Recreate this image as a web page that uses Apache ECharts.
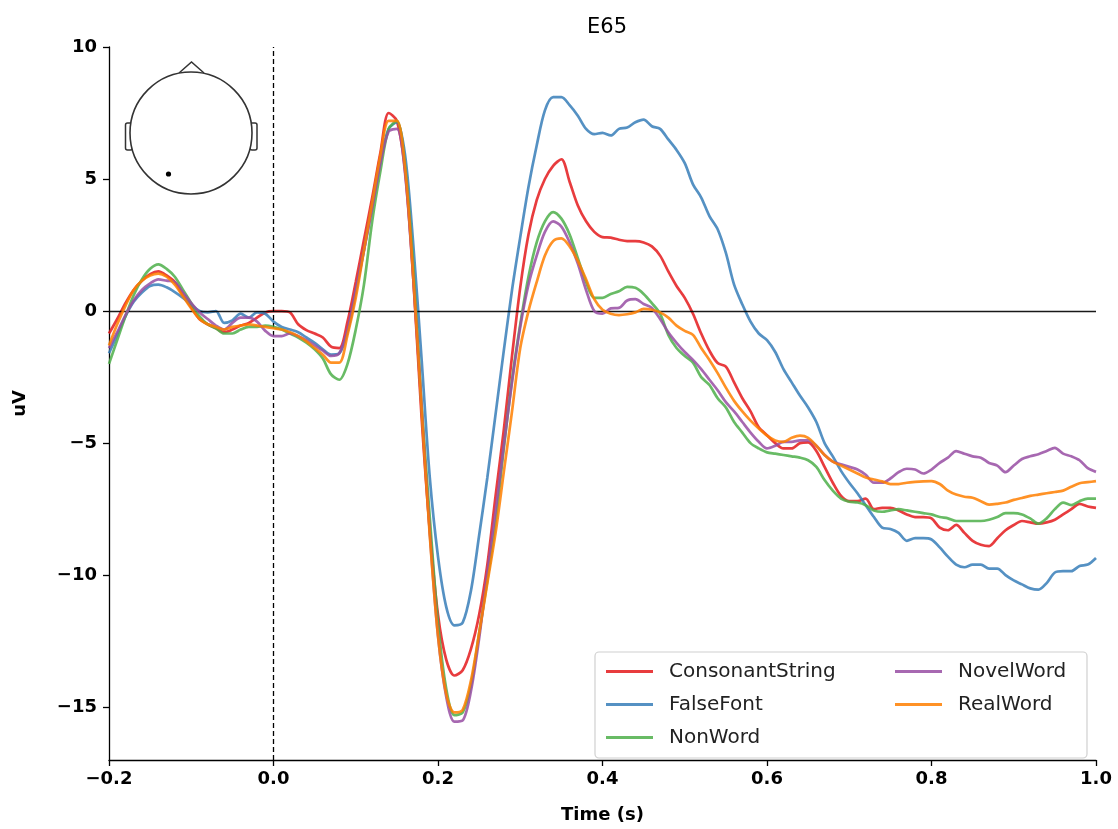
<!DOCTYPE html>
<html>
<head>
<meta charset="utf-8">
<script src="https://cdn.jsdelivr.net/npm/echarts@6/dist/echarts.min.js"></script>
<style>
html,body{margin:0;padding:0;background:#fff;}
#chart{width:1118px;height:829px;}
</style>
</head>
<body>
<div id="chart"></div>
<script>
// ---- data (µV at 10 ms steps) ----
const times = [
 -0.20,-0.19,-0.18,-0.17,-0.16,-0.15,-0.14,-0.13,-0.12,-0.11,
 -0.10,-0.09,-0.08,-0.07,-0.06,-0.05,-0.04,-0.03,-0.02,-0.01,
 0.00,0.01,0.02,0.03,0.04,0.05,0.06,0.07,0.08,0.09,
 0.10,0.11,0.12,0.13,0.14,0.15,0.16,0.17,0.18,0.19,
 0.20,0.21,0.22,0.23,0.24,0.25,0.26,0.27,0.28,0.29,
 0.30,0.31,0.32,0.33,0.34,0.35,0.36,0.37,0.38,0.39,
 0.40,0.41,0.42,0.43,0.44,0.45,0.46,0.47,0.48,0.49,
 0.50,0.51,0.52,0.53,0.54,0.55,0.56,0.57,0.58,0.59,
 0.60,0.61,0.62,0.63,0.64,0.65,0.66,0.67,0.68,0.69,
 0.70,0.71,0.72,0.73,0.74,0.75,0.76,0.77,0.78,0.79,
 0.80,0.81,0.82,0.83,0.84,0.85,0.86,0.87,0.88,0.89,
 0.90,0.91,0.92,0.93,0.94,0.95,0.96,0.97,0.98,0.99,
 1.00
];
const consonantString = [
 -0.85,-0.3,0.3,0.8,1.15,1.4,1.5,1.35,1.1,0.6,
 0.15,-0.3,-0.5,-0.65,-0.8,-0.7,-0.55,-0.45,-0.25,-0.05,
 0.0,0.0,-0.05,-0.5,-0.72,-0.85,-1.0,-1.35,-1.4,-0.4,
 1.1,2.7,4.3,6.0,7.5,7.2,5.3,1.2,-4.0,-8.3,
 -11.5,-13.2,-13.8,-13.6,-12.8,-11.5,-9.6,-7.0,-4.5,-1.7,
 0.9,2.9,4.2,5.0,5.5,5.75,4.9,4.0,3.4,3.0,
 2.8,2.78,2.7,2.65,2.65,2.6,2.45,2.1,1.5,0.95,
 0.5,-0.1,-0.85,-1.5,-1.97,-2.1,-2.7,-3.3,-3.8,-4.4,
 -4.7,-5.0,-5.2,-5.2,-5.0,-4.97,-5.3,-5.9,-6.5,-7.0,
 -7.2,-7.2,-7.1,-7.5,-7.45,-7.45,-7.55,-7.7,-7.8,-7.8,
 -7.85,-8.2,-8.3,-8.1,-8.4,-8.7,-8.85,-8.9,-8.6,-8.3,
 -8.1,-7.95,-8.0,-8.05,-8.0,-7.9,-7.7,-7.5,-7.3,-7.4,
 -7.45
];
const falseFont = [
 -1.6,-0.9,-0.2,0.35,0.7,0.95,1.0,0.9,0.72,0.5,
 0.25,0.0,-0.05,0.0,-0.45,-0.35,-0.1,-0.25,-0.05,-0.1,
 -0.4,-0.6,-0.7,-0.8,-1.0,-1.2,-1.45,-1.65,-1.6,-0.8,
 0.7,2.3,4.0,5.7,6.9,7.15,5.9,2.5,-1.8,-6.3,
 -9.3,-11.2,-11.9,-11.8,-10.6,-8.5,-6.3,-3.9,-1.5,0.8,
 2.8,4.7,6.27,7.6,8.1,8.1,7.8,7.4,6.9,6.7,
 6.75,6.65,6.9,6.95,7.15,7.25,7.0,6.9,6.5,6.1,
 5.6,4.8,4.3,3.6,3.1,2.2,1.0,0.25,-0.4,-0.85,
 -1.1,-1.55,-2.2,-2.7,-3.2,-3.65,-4.2,-5.0,-5.5,-6.05,
 -6.5,-6.9,-7.35,-7.8,-8.2,-8.25,-8.4,-8.7,-8.6,-8.6,
 -8.65,-8.95,-9.3,-9.6,-9.7,-9.6,-9.6,-9.75,-9.75,-10.0,
 -10.2,-10.35,-10.5,-10.55,-10.3,-9.9,-9.85,-9.85,-9.65,-9.6,
 -9.35
];
const nonWord = [
 -2.0,-1.1,-0.2,0.6,1.2,1.6,1.77,1.6,1.3,0.8,
 0.3,-0.2,-0.5,-0.65,-0.85,-0.85,-0.7,-0.6,-0.6,-0.55,
 -0.6,-0.7,-0.85,-1.0,-1.2,-1.45,-1.8,-2.4,-2.6,-2.0,
 -0.7,1.0,3.4,5.3,6.9,7.2,5.5,1.7,-3.5,-7.8,
 -11.8,-14.3,-15.3,-15.2,-14.2,-12.2,-10.2,-8.0,-5.2,-2.6,
 -0.5,1.3,2.6,3.4,3.75,3.5,2.9,2.0,1.1,0.5,
 0.5,0.65,0.75,0.92,0.88,0.65,0.3,-0.1,-0.9,-1.4,
 -1.7,-1.95,-2.5,-2.8,-3.3,-3.65,-4.2,-4.6,-5.0,-5.2,
 -5.35,-5.4,-5.45,-5.5,-5.55,-5.65,-5.9,-6.4,-6.8,-7.1,
 -7.22,-7.25,-7.35,-7.55,-7.6,-7.55,-7.5,-7.55,-7.6,-7.65,
 -7.7,-7.8,-7.85,-7.95,-7.95,-7.95,-7.95,-7.9,-7.8,-7.65,
 -7.65,-7.7,-7.85,-8.05,-7.85,-7.5,-7.25,-7.35,-7.2,-7.1,
 -7.1
];
const novelWord = [
 -1.4,-0.8,-0.15,0.4,0.8,1.05,1.2,1.15,1.1,0.7,
 0.3,-0.05,-0.3,-0.55,-0.7,-0.45,-0.25,-0.25,-0.4,-0.75,
 -0.95,-0.95,-0.85,-0.95,-1.1,-1.3,-1.5,-1.7,-1.6,-0.7,
 0.8,2.3,3.9,5.6,6.8,6.9,5.2,1.2,-3.6,-8.4,
 -12.3,-14.6,-15.55,-15.5,-14.4,-12.4,-9.9,-7.6,-5.1,-2.7,
 -0.6,1.0,2.1,3.0,3.4,3.2,2.6,1.8,0.8,0.0,
 -0.1,0.1,0.12,0.4,0.45,0.27,0.12,-0.3,-0.8,-1.2,
 -1.55,-1.85,-2.2,-2.6,-3.0,-3.45,-3.8,-4.2,-4.6,-4.95,
 -5.2,-5.1,-4.95,-4.95,-4.9,-4.9,-5.1,-5.45,-5.7,-5.8,
 -5.9,-6.0,-6.2,-6.5,-6.5,-6.34,-6.1,-5.97,-6.0,-6.15,
 -6.0,-5.75,-5.55,-5.3,-5.4,-5.5,-5.55,-5.75,-5.85,-6.1,
 -5.85,-5.6,-5.5,-5.42,-5.3,-5.18,-5.4,-5.5,-5.65,-5.95,
 -6.09
];
const realWord = [
 -1.3,-0.5,0.2,0.8,1.15,1.35,1.42,1.3,1.0,0.55,
 0.1,-0.3,-0.5,-0.6,-0.7,-0.6,-0.55,-0.5,-0.55,-0.6,
 -0.65,-0.7,-0.8,-0.95,-1.15,-1.4,-1.65,-1.95,-1.95,-0.9,
 0.5,2.3,4.1,5.9,7.2,7.2,5.4,1.3,-3.7,-8.5,
 -12.3,-14.5,-15.2,-15.1,-14.0,-12.2,-10.3,-8.4,-6.1,-3.8,
 -1.4,0.0,1.1,2.1,2.65,2.75,2.45,1.9,1.2,0.45,
 0.05,-0.1,-0.15,-0.12,-0.05,0.08,0.05,-0.05,-0.25,-0.55,
 -0.75,-0.9,-1.4,-1.85,-2.35,-2.9,-3.4,-3.8,-4.15,-4.45,
 -4.72,-4.9,-4.95,-4.8,-4.72,-4.8,-5.1,-5.45,-5.7,-5.85,
 -6.0,-6.15,-6.3,-6.38,-6.45,-6.55,-6.55,-6.5,-6.47,-6.45,
 -6.44,-6.55,-6.8,-6.95,-7.03,-7.07,-7.2,-7.33,-7.3,-7.25,
 -7.15,-7.08,-7.0,-6.95,-6.9,-6.85,-6.8,-6.65,-6.52,-6.48,
 -6.44
];
const seriesNames = ['ConsonantString','FalseFont','NonWord','NovelWord','RealWord'];
const seriesValues = [consonantString, falseFont, nonWord, novelWord, realWord];
const seriesColors = ['#e41a1c','#377eb8','#4daf4a','#984ea3','#ff7f00'];
const xTicks = [-0.2,0.0,0.2,0.4,0.6,0.8,1.0];
const yTicks = [-15,-10,-5,0,5,10];
const channelName = 'E65';

const FONT = 'DejaVu Sans';
const minus = v => (v < 0 ? '\u2212' : '') + Math.abs(v);

const chart = echarts.init(document.getElementById('chart'), null, {renderer:'canvas'});

const series = seriesNames.map((name, k) => ({
  name: name,
  type: 'line',
  data: times.map((t, i) => [t, seriesValues[k][i]]),
  showSymbol: false,
  symbol: 'none',
  smooth: 0.3,
  lineStyle: {color: seriesColors[k], width: 2.7, opacity: 0.85},
  itemStyle: {color: seriesColors[k], opacity: 0.85},
  z: 3 + k,
  animation: false
}));
series[0].markLine = {
  silent: true, symbol: 'none', animation: false,
  label: {show: false},
  data: [
    {yAxis: 0, lineStyle: {color: '#000', width: 1.3, type: 'solid', opacity: 0.9}},
    {xAxis: 0, lineStyle: {color: '#000', width: 1.3, type: [5, 3], opacity: 1}}
  ]
};

const legendBase = {
  orient: 'vertical',
  top: 655,
  icon: 'rect',
  itemWidth: 47,
  itemHeight: 3,
  itemGap: 10,
  selectedMode: false,
  z: 10,
  textStyle: {fontFamily: FONT, fontSize: 20, color: '#222', padding: [0,0,0,11], lineHeight: 23}
};

const option = {
  backgroundColor: '#fff',
  animation: false,
  title: {
    text: channelName,
    left: 602, top: 12, textAlign: 'center',
    textStyle: {fontFamily: FONT, fontSize: 21, fontWeight: 'normal', color: '#000'}
  },
  grid: {left: 109, right: 22, top: 47, bottom: 61, containLabel: false},
  legend: [
    Object.assign({}, legendBase, {left: 601, data: seriesNames.slice(0, 3)}),
    Object.assign({}, legendBase, {left: 890, data: seriesNames.slice(3)})
  ],
  xAxis: {
    type: 'value', min: -0.2, max: 1.0, interval: 0.2,
    name: 'Time (s)', nameLocation: 'middle', nameGap: 46,
    nameTextStyle: {fontFamily: FONT, fontSize: 18, fontWeight: 'bold', color: '#000'},
    axisLine: {onZero: false, lineStyle: {color: '#000', width: 1.3}},
    axisTick: {show: true, inside: false, length: 6, lineStyle: {color: '#000', width: 1.3}},
    axisLabel: {
      margin: 10, fontFamily: FONT, fontSize: 18, fontWeight: 'bold', color: '#000',
      customValues: xTicks,
      formatter: v => (v < -1e-9 ? '\u2212' : '') + Math.abs(v).toFixed(1)
    },
    splitLine: {show: false}
  },
  yAxis: {
    type: 'value', min: -17, max: 10,
    name: 'uV', nameLocation: 'middle', nameGap: 80, nameRotate: 90,
    nameTextStyle: {fontFamily: FONT, fontSize: 18, fontWeight: 'bold', color: '#000'},
    axisLine: {onZero: false, lineStyle: {color: '#000', width: 1.3}},
    axisTick: {show: true, inside: false, length: 6, customValues: yTicks, lineStyle: {color: '#000', width: 1.3}},
    axisLabel: {
      margin: 12, fontFamily: FONT, fontSize: 18, fontWeight: 'bold', color: '#000',
      customValues: yTicks,
      formatter: v => minus(v)
    },
    splitLine: {show: false}
  },
  graphic: [
    // legend frame
    {type: 'rect', z: 8, shape: {x: 595, y: 652, width: 492, height: 106, r: 4},
     style: {fill: 'rgba(255,255,255,0.85)', stroke: '#d0d0d0', lineWidth: 1.2}},
    // sensor head inset
    {type: 'group', z: 8, children: [
      {type: 'polyline', shape: {points: [[179,73],[191.5,62],[204,73]]},
       style: {fill: 'none', stroke: '#333', lineWidth: 1.5}},
      {type: 'rect', shape: {x: 125.5, y: 123, width: 7, height: 27, r: 2},
       style: {fill: '#fff', stroke: '#333', lineWidth: 1.5}},
      {type: 'rect', shape: {x: 250, y: 123, width: 7, height: 27, r: 2},
       style: {fill: '#fff', stroke: '#333', lineWidth: 1.5}},
      {type: 'circle', shape: {cx: 191, cy: 133, r: 61},
       style: {fill: '#fff', stroke: '#333', lineWidth: 1.6}},
      {type: 'circle', shape: {cx: 168.5, cy: 174, r: 2.6},
       style: {fill: '#000', stroke: null}}
    ]}
  ],
  series: series
};
chart.setOption(option);
</script>
</body>
</html>
